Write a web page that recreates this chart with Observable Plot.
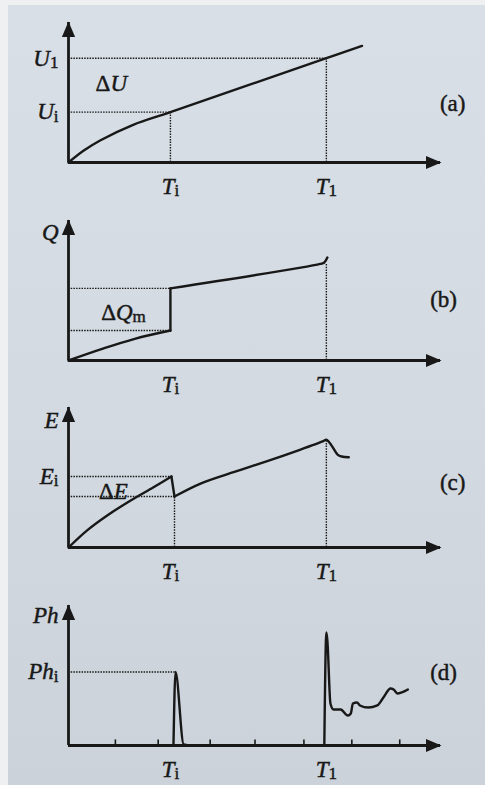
<!DOCTYPE html>
<html><head><meta charset="utf-8">
<script src="https://cdn.jsdelivr.net/npm/d3@7"></script>
<script src="https://cdn.jsdelivr.net/npm/@observablehq/plot@0.6"></script>
<style>
html,body{margin:0;padding:0;width:485px;height:785px;overflow:hidden;background:#eef0f1;}
#bg{position:absolute;left:8px;top:5px;right:0;bottom:0;background:linear-gradient(#d8dfe6,#d3dae1 50%,#cbd2d9);}
.panel{position:absolute;left:0;width:485px;}
</style></head><body><div id="bg"></div><div id="root"></div>
<script>
// ---- shared time axis (Ti taken as 1 unit) ----
const Ti = 1, T1 = 2.53, tEnd = 3.65, yEnd = 10;
const timeTicks = [Ti, T1];
const timeTickNames = ["T_i", "T_1"];

// ---- (a) U ----
const aSeg = [0, 0, 0, 0, 0, 0, 0];
const aT = [0, 0.15, 0.31, 0.64, 1, 2.53, 2.88];
const aU = [0, 0.85, 1.57, 2.71, 3.6, 7.45, 8.33];
const aLevelY = [3.6, 7.45];
const aLevelT = [Ti, T1];
const aDropT = [Ti, T1];
const aDropY = [3.6, 7.45];
const aAxisY = [3.6, 7.45];
const aAxisNames = ["U_i", "U_1"];
const aNoteText = ["ΔU", "(a)"];
const aNoteT = [0.42, 3.77];
const aNoteY = [5.64, 4.2];

// ---- (b) Q ----
const bSeg = [0, 0, 0, 0, 1, 1, 2, 2, 2, 2];
const bT = [0, 0.33, 0.65, 1, 1, 1, 1, 2.47, 2.51, 2.54];
const bQ = [0, 0.83, 1.55, 2.14, 2.14, 5.15, 5.15, 6.9, 7.0, 7.35];
const bLevelY = [2.14, 5.15];
const bLevelT = [Ti, Ti];
const bDropT = [T1];
const bDropY = [6.95];
const bAxisY = [9.1];
const bAxisNames = ["Q"];
const bNoteText = ["ΔQ_m", "(b)"];
const bNoteT = [0.54, 3.68];
const bNoteY = [3.43, 4.36];

// ---- (c) E ----
const cSeg = [0, 0, 0, 0, 0, 0, 1, 1, 2, 2, 2, 2, 2, 2, 2, 2, 2, 2, 2, 2];
const cT = [0, 0.18, 0.38, 0.61, 0.83, 1.01, 1.01, 1.04, 1.04, 1.29, 1.62, 1.95, 2.27, 2.50, 2.53, 2.56, 2.60, 2.64, 2.68, 2.75];
const cE = [0, 1.21, 2.29, 3.36, 4.29, 5.07, 5.07, 3.64, 3.64, 4.55, 5.38, 6.17, 6.98, 7.6, 7.70, 7.50, 7.07, 6.64, 6.50, 6.45];
const cLevelY = [5.07, 3.64];
const cLevelT = [1.01, 1.04];
const cDropT = [1.04, T1];
const cDropY = [3.64, 7.7];
const cAxisY = [9.07, 5.07];
const cAxisNames = ["E", "E_i"];
const cNoteText = ["ΔE", "(c)"];
const cNoteT = [0.44, 3.77];
const cNoteY = [4.0, 4.64];

// ---- (d) Ph ----
const dSeg = [0, 0, 0, 0, 1, 1, 1, 1, 1, 1, 1, 1, 1, 1, 1, 1, 1, 1, 1, 1, 1, 1, 1];
const dT = [1.03, 1.05, 1.13, 1.22, 2.51, 2.53, 2.54, 2.57, 2.60, 2.67, 2.74, 2.77, 2.79, 2.83, 2.86, 2.94, 3.03, 3.09, 3.16, 3.19, 3.23, 3.27, 3.33];
const dPh = [0, 5.25, 0.08, 0, 0, 8.07, 7.5, 3.0, 2.57, 2.57, 2.14, 2.29, 3.0, 3.07, 2.86, 2.71, 2.86, 3.43, 4.07, 4.0, 3.71, 3.79, 4.0];
const dLevelY = [5.25];
const dLevelT = [1.05];
const dAxisY = [9.29, 5.25];
const dAxisNames = ["Ph", "Ph_i"];
const dNoteText = ["(d)"];
const dNoteT = [3.68];
const dNoteY = [5.2];
const dBaseTicks = [0.46, 0.88, 1.39, 1.83, 2.31, 2.78, 3.25];

// ---- drawing ----
const ink = "#181818";
const serif = "'Liberation Serif', 'Times New Roman', Times, serif";
const arrowHead = {
  draw(ctx, size) {
    const r = Math.sqrt(size / Math.PI);
    ctx.moveTo(0, -r * 0.15);
    ctx.lineTo(r, r * 2.2);
    ctx.lineTo(-r, r * 2.2);
    ctx.closePath();
  }
};
const zip = (a, b) => a.map((v, i) => ({t: v, v: b[i]}));

function rich(svg) {
  svg.querySelectorAll("text").forEach(t => {
    const s = t.textContent;
    t.setAttribute("font-family", serif);
    t.style.fontFamily = serif;
    t.setAttribute("stroke", ink);
    t.setAttribute("stroke-width", "0.45");
    t.setAttribute("paint-order", "stroke");
    if (!s) return;
    if (s.startsWith("(")) { t.setAttribute("font-style", "normal"); return; }
    t.textContent = "";
    const re = /(Δ)|_(\w+)|([^Δ_]+)/g;
    let m;
    while ((m = re.exec(s))) {
      const sp = document.createElementNS("http://www.w3.org/2000/svg", "tspan");
      if (m[1]) { sp.textContent = m[1]; sp.setAttribute("font-style", "normal"); }
      else if (m[2]) {
        sp.textContent = m[2];
        sp.setAttribute("font-style", "normal");
        sp.style.fontSize = "0.74em";
        sp.setAttribute("dy", "0.14em");
      } else { sp.textContent = m[3]; sp.setAttribute("font-style", "italic"); }
      t.appendChild(sp);
    }
  });
}

function panel(top, seg, ts, vs, curve, levelY, levelT, dropT, dropY, axisY, axisNames, noteText, noteT, noteY, baseTicks) {
  const rows = ts.map((t, i) => ({t, v: vs[i], seg: seg[i]}));
  const levels = zip(levelT, levelY);
  const drops = zip(dropT, dropY);
  const notes = noteText.map((s, i) => ({s, t: noteT[i], v: noteY[i]}));
  const yName = new Map(axisY.map((v, i) => [v, axisNames[i]]));
  const xName = new Map(timeTicks.map((v, i) => [v, timeTickNames[i]]));
  const svg = Plot.plot({
    width: 485, height: 200,
    marginLeft: 68, marginRight: 45, marginTop: 20, marginBottom: 40,
    x: {domain: [0, tEnd]},
    y: {domain: [0, yEnd]},
    style: {background: "transparent", fontFamily: serif, fontSize: "23px", color: ink, overflow: "visible"},
    marks: [
      Plot.ruleY(levels, {y: "v", x1: () => 0, x2: "t", stroke: ink, strokeWidth: 1.4, strokeDasharray: "1.5,1.2"}),
      Plot.ruleX(drops, {x: "t", y1: () => 0, y2: "v", stroke: ink, strokeWidth: 1.4, strokeDasharray: "1.5,1.2"}),
      Plot.ruleX(baseTicks, {x: d => d, y1: () => 0, y2: () => 0.4, stroke: ink, strokeWidth: 1.6}),
      Plot.ruleY([0], {x1: () => 0, x2: () => tEnd, stroke: ink, strokeWidth: 2.8}),
      Plot.ruleX([0], {y1: () => 0, y2: () => yEnd, stroke: ink, strokeWidth: 2.8}),
      Plot.dot([0], {x: () => 0, y: () => yEnd, symbol: arrowHead, r: 6.6, fill: ink, stroke: "none"}),
      Plot.dot([0], {x: () => tEnd, y: () => 0, symbol: arrowHead, r: 6.6, rotate: 90, fill: ink, stroke: "none"}),
      Plot.line(rows, {x: "t", y: "v", z: "seg", curve, stroke: ink, strokeWidth: 2.4, strokeLinejoin: "round"}),
      Plot.axisY(axisY, {tickSize: 0, tickPadding: 10, tickFormat: d => yName.get(d), fontSize: 23, label: null}),
      Plot.axisX(timeTicks, {tickSize: 0, tickPadding: 15, tickFormat: d => xName.get(d), fontSize: 23, label: null}),
      Plot.text(notes, {x: "t", y: "v", text: "s", fontSize: 23, fill: ink})
    ]
  });
  rich(svg);
  svg.classList.add("panel");
  svg.style.top = top + "px";
  svg.style.position = "absolute";
  document.getElementById("root").appendChild(svg);
}

panel(2, aSeg, aT, aU, "catmull-rom", aLevelY, aLevelT, aDropT, aDropY, aAxisY, aAxisNames, aNoteText, aNoteT, aNoteY, []);
panel(200, bSeg, bT, bQ, "catmull-rom", bLevelY, bLevelT, bDropT, bDropY, bAxisY, bAxisNames, bNoteText, bNoteT, bNoteY, []);
panel(387, cSeg, cT, cE, "catmull-rom", cLevelY, cLevelT, cDropT, cDropY, cAxisY, cAxisNames, cNoteText, cNoteT, cNoteY, []);
panel(585, dSeg, dT, dPh, "monotone-x", dLevelY, dLevelT, [], [], dAxisY, dAxisNames, dNoteText, dNoteT, dNoteY, dBaseTicks);
</script>
</body></html>
